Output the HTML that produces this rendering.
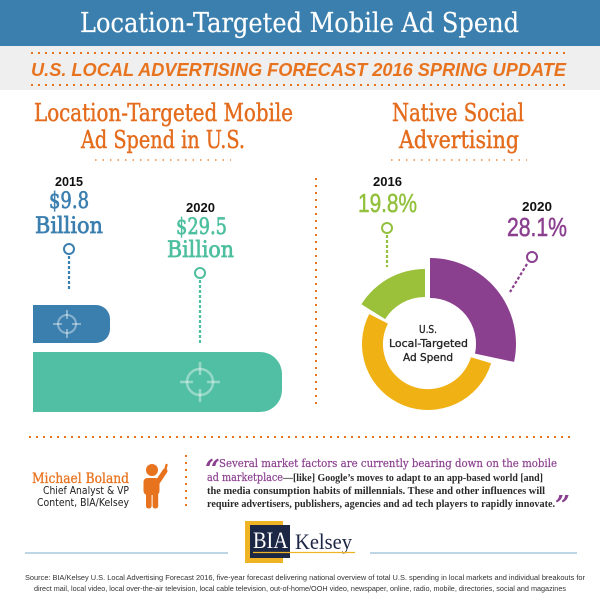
<!DOCTYPE html>
<html>
<head>
<meta charset="utf-8">
<style>
  html,body{margin:0;padding:0;background:#fff;}
  svg{display:block;}
</style>
</head>
<body>
<svg width="600" height="600" viewBox="0 0 600 600" xmlns="http://www.w3.org/2000/svg">
  <rect x="0" y="0" width="600" height="600" fill="#ffffff"/>

  <!-- Header -->
  <rect x="0" y="0" width="600" height="46" fill="#3a7fae"/>
  <text x="80" y="32" font-family="DejaVu Serif, Liberation Serif, serif" font-size="27" fill="#ffffff" stroke="#ffffff" stroke-width="0.2" textLength="439" lengthAdjust="spacingAndGlyphs">Location-Targeted Mobile Ad Spend</text>

  <!-- Gray band -->
  <rect x="0" y="46" width="600" height="44" fill="#efefef"/>
  <line x1="31" y1="53" x2="567" y2="53" stroke="#e8731f" stroke-width="2" stroke-dasharray="2 5"/>
  <line x1="31" y1="85" x2="567" y2="85" stroke="#e8731f" stroke-width="2" stroke-dasharray="2 5"/>
  <text x="31" y="76" font-family="Liberation Sans, sans-serif" font-size="18" font-weight="bold" font-style="italic" fill="#e8731f" textLength="535" lengthAdjust="spacingAndGlyphs">U.S. LOCAL ADVERTISING FORECAST 2016 SPRING UPDATE</text>

  <!-- Section headings -->
  <g font-family="DejaVu Serif, Liberation Serif, serif" font-size="24" fill="#e46c1d" stroke="#e46c1d" stroke-width="0.45">
    <text x="34" y="121" textLength="259" lengthAdjust="spacingAndGlyphs">Location-Targeted Mobile</text>
    <text x="81" y="148" textLength="164" lengthAdjust="spacingAndGlyphs">Ad Spend in U.S.</text>
    <text x="392" y="121" textLength="132" lengthAdjust="spacingAndGlyphs">Native Social</text>
    <text x="399" y="148" textLength="120" lengthAdjust="spacingAndGlyphs">Advertising</text>
  </g>
  <line x1="95" y1="160" x2="231" y2="160" stroke="#ef8a3c" stroke-width="1.5" stroke-dasharray="1.5 6"/>
  <line x1="391" y1="160" x2="527" y2="160" stroke="#ef8a3c" stroke-width="1.5" stroke-dasharray="1.5 6"/>

  <!-- Left chart labels -->
  <text x="55" y="186" font-family="Liberation Sans, sans-serif" font-size="12.5" font-weight="bold" fill="#111" textLength="28" lengthAdjust="spacingAndGlyphs">2015</text>
  <g font-family="DejaVu Serif, serif" font-size="22" stroke-width="0.7">
    <text x="49" y="208" fill="#3b7fb0" stroke="#3b7fb0" textLength="40" lengthAdjust="spacingAndGlyphs">$9.8</text>
    <text x="35" y="233" fill="#3b7fb0" stroke="#3b7fb0" textLength="68" lengthAdjust="spacingAndGlyphs">Billion</text>
    <text x="176" y="234" fill="#4dbf9f" stroke="#4dbf9f" textLength="51" lengthAdjust="spacingAndGlyphs">$29.5</text>
    <text x="167" y="257" fill="#4dbf9f" stroke="#4dbf9f" textLength="67" lengthAdjust="spacingAndGlyphs">Billion</text>
  </g>
  <text x="186" y="212" font-family="Liberation Sans, sans-serif" font-size="12.5" font-weight="bold" fill="#111" textLength="29" lengthAdjust="spacingAndGlyphs">2020</text>

  <!-- markers left -->
  <circle cx="69" cy="249" r="5" fill="#fff" stroke="#3b7fb0" stroke-width="2"/>
  <line x1="69" y1="256" x2="69" y2="291" stroke="#3b7fb0" stroke-width="2.2" stroke-dasharray="3 2"/>
  <circle cx="200" cy="273" r="5" fill="#fff" stroke="#4dbf9f" stroke-width="2"/>
  <line x1="200" y1="280" x2="200" y2="344" stroke="#4dbf9f" stroke-width="2.2" stroke-dasharray="3 2"/>

  <!-- Bars -->
  <path d="M33,305 H96 A14,14 0 0 1 110,319 V329 A14,14 0 0 1 96,343 H33 Z" fill="#3a7fae"/>
  <path d="M33,352 H260 A22,22 0 0 1 282,374 V390 A22,22 0 0 1 260,412 H33 Z" fill="#50bfa3"/>

  <!-- crosshairs -->
  <g stroke="#ffffff" stroke-opacity="0.4" stroke-width="2" fill="none">
    <circle cx="67" cy="324" r="9"/>
    <line x1="53" y1="324" x2="62" y2="324"/>
    <line x1="72" y1="324" x2="81" y2="324"/>
    <line x1="67" y1="310" x2="67" y2="319"/>
    <line x1="67" y1="329" x2="67" y2="338"/>
  </g>
  <g stroke="#ffffff" stroke-opacity="0.4" stroke-width="2.5" fill="none">
    <circle cx="200" cy="382" r="13"/>
    <line x1="180" y1="382" x2="193" y2="382"/>
    <line x1="207" y1="382" x2="220" y2="382"/>
    <line x1="200" y1="362" x2="200" y2="375"/>
    <line x1="200" y1="389" x2="200" y2="402"/>
  </g>

  <!-- Vertical divider -->
  <line x1="316" y1="178" x2="316" y2="408" stroke="#e8731f" stroke-width="2" stroke-dasharray="2 5"/>

  <!-- Right chart labels -->
  <text x="373" y="186" font-family="Liberation Sans, sans-serif" font-size="12.5" font-weight="bold" fill="#111" textLength="29" lengthAdjust="spacingAndGlyphs">2016</text>
  <text x="358" y="212" font-family="Liberation Sans, sans-serif" font-size="26" fill="#93c13e" stroke="#93c13e" stroke-width="0.5" textLength="59" lengthAdjust="spacingAndGlyphs">19.8%</text>
  <text x="522" y="211" font-family="Liberation Sans, sans-serif" font-size="12.5" font-weight="bold" fill="#111" textLength="30" lengthAdjust="spacingAndGlyphs">2020</text>
  <text x="507" y="236" font-family="Liberation Sans, sans-serif" font-size="26" fill="#8b3f8f" stroke="#8b3f8f" stroke-width="0.5" textLength="60" lengthAdjust="spacingAndGlyphs">28.1%</text>

  <circle cx="387" cy="228" r="5" fill="#fff" stroke="#93c13e" stroke-width="2"/>
  <line x1="387" y1="235" x2="387" y2="267" stroke="#93c13e" stroke-width="2.2" stroke-dasharray="3 2"/>
  <circle cx="532" cy="257" r="5" fill="#fff" stroke="#8b3f8f" stroke-width="2"/>
  <line x1="527" y1="264" x2="510" y2="292" stroke="#8b3f8f" stroke-width="2.2" stroke-dasharray="3 2"/>

  <!-- Donut -->
  <path d="M430,258 A86,86 0 0 1 514.1,361.9 L475,353.6 A46,46 0 0 0 430,298 Z" fill="#8b3f8f"/>
  <path d="M361.4,304.3 A75,75 0 0 1 425,269 L425,297 A47,47 0 0 0 385.1,319.1 Z" fill="#9bc13b"/>
  <path d="M491.1,363.3 A66,66 0 1 1 369.2,314 L387.9,323.6 A45,45 0 1 0 471,357.2 Z" fill="#f0b114"/>

  <g font-family="DejaVu Sans, Liberation Sans, sans-serif" font-size="11" fill="#222" stroke="#222" stroke-width="0.3">
    <text x="419" y="333" textLength="18" lengthAdjust="spacingAndGlyphs">U.S.</text>
    <text x="389" y="347" textLength="79" lengthAdjust="spacingAndGlyphs">Local-Targeted</text>
    <text x="403" y="361" textLength="50" lengthAdjust="spacingAndGlyphs">Ad Spend</text>
  </g>

  <!-- Horizontal divider -->
  <line x1="29" y1="437" x2="572" y2="437" stroke="#e8731f" stroke-width="2" stroke-dasharray="2 5"/>

  <!-- Author -->
  <text x="32" y="483" font-family="DejaVu Serif, serif" font-size="14" fill="#e8731f" stroke="#e8731f" stroke-width="0.3" textLength="97" lengthAdjust="spacingAndGlyphs">Michael Boland</text>
  <text x="43" y="494" font-family="DejaVu Sans, sans-serif" font-size="10.5" fill="#222" textLength="86" lengthAdjust="spacingAndGlyphs">Chief Analyst &amp; VP</text>
  <text x="37" y="506" font-family="DejaVu Sans, sans-serif" font-size="10.5" fill="#222" textLength="92" lengthAdjust="spacingAndGlyphs">Content, BIA/Kelsey</text>

  <!-- Person icon -->
  <g fill="#e8731f">
    <circle cx="152" cy="470" r="6"/>
    <rect x="143.5" y="478" width="16" height="17" rx="4"/>
    <rect x="146" y="489" width="5.6" height="19.5" rx="2.5"/>
    <rect x="152.6" y="489" width="5.6" height="19.5" rx="2.5"/>
  </g>
  <line x1="157" y1="483" x2="165" y2="471" stroke="#e8731f" stroke-width="5" stroke-linecap="round"/>
  <line x1="165" y1="471" x2="166.5" y2="465" stroke="#e8731f" stroke-width="2.4" stroke-linecap="round"/>

  <line x1="186" y1="455" x2="186" y2="509" stroke="#e8731f" stroke-width="2" stroke-dasharray="2 5"/>

  <!-- Quote -->
  <text x="205" y="478" font-family="DejaVu Serif, serif" font-size="26" font-weight="bold" font-style="italic" fill="#8b3f8f">“</text>
  <text x="219" y="467" font-family="DejaVu Serif, serif" font-size="11.5" fill="#8b3f8f" stroke="#8b3f8f" stroke-width="0.2" textLength="338" lengthAdjust="spacingAndGlyphs">Several market factors are currently bearing down on the mobile</text>
  <text x="207" y="481" font-family="DejaVu Serif, serif" font-size="11.5" fill="#8b3f8f" stroke="#8b3f8f" stroke-width="0.2" textLength="76" lengthAdjust="spacingAndGlyphs">ad marketplace</text>
  <text x="283" y="481" font-family="Liberation Serif, serif" font-size="10.5" font-weight="bold" fill="#2a2a2a" textLength="260" lengthAdjust="spacingAndGlyphs">—[like] Google’s moves to adapt to an app-based world [and]</text>
  <text x="207" y="494" font-family="Liberation Serif, serif" font-size="10.5" font-weight="bold" fill="#2a2a2a" textLength="338" lengthAdjust="spacingAndGlyphs">the media consumption habits of millennials. These and other influences will</text>
  <text x="207" y="507" font-family="Liberation Serif, serif" font-size="10.5" font-weight="bold" fill="#2a2a2a" textLength="348" lengthAdjust="spacingAndGlyphs">require advertisers, publishers, agencies and ad tech players to rapidly innovate.</text>
  <text x="555" y="514" font-family="DejaVu Serif, serif" font-size="26" font-weight="bold" font-style="italic" fill="#8b3f8f">”</text>

  <!-- Logo -->
  <line x1="25" y1="553" x2="228" y2="553" stroke="#a9c7dc" stroke-width="1.5"/>
  <line x1="370" y1="553" x2="577" y2="553" stroke="#a9c7dc" stroke-width="1.5"/>
  <rect x="245" y="521" width="38" height="42" fill="#f0b323"/>
  <rect x="250" y="525" width="40" height="33" fill="#1c2645"/>
  <text x="253" y="548" font-family="Liberation Serif, serif" font-size="23" fill="#ffffff" textLength="35" lengthAdjust="spacingAndGlyphs">BIA</text>
  <text x="295" y="549" font-family="Liberation Serif, serif" font-size="22" fill="#1c2645" textLength="57" lengthAdjust="spacingAndGlyphs">Kelsey</text>
  <line x1="253" y1="552.5" x2="355" y2="552.5" stroke="#f0b323" stroke-width="1.2"/>

  <!-- Source -->
  <text x="25" y="580" font-family="Liberation Sans, sans-serif" font-size="7" fill="#333" textLength="560" lengthAdjust="spacingAndGlyphs">Source: BIA/Kelsey U.S. Local Advertising Forecast 2016, five-year forecast delivering national overview of total U.S. spending in local markets and individual breakouts for</text>
  <text x="34" y="591" font-family="Liberation Sans, sans-serif" font-size="7" fill="#333" textLength="532" lengthAdjust="spacingAndGlyphs">direct mail, local video, local over-the-air television, local cable television, out-of-home/OOH video, newspaper, online, radio, mobile, directories, social and magazines</text>
</svg>
</body>
</html>
